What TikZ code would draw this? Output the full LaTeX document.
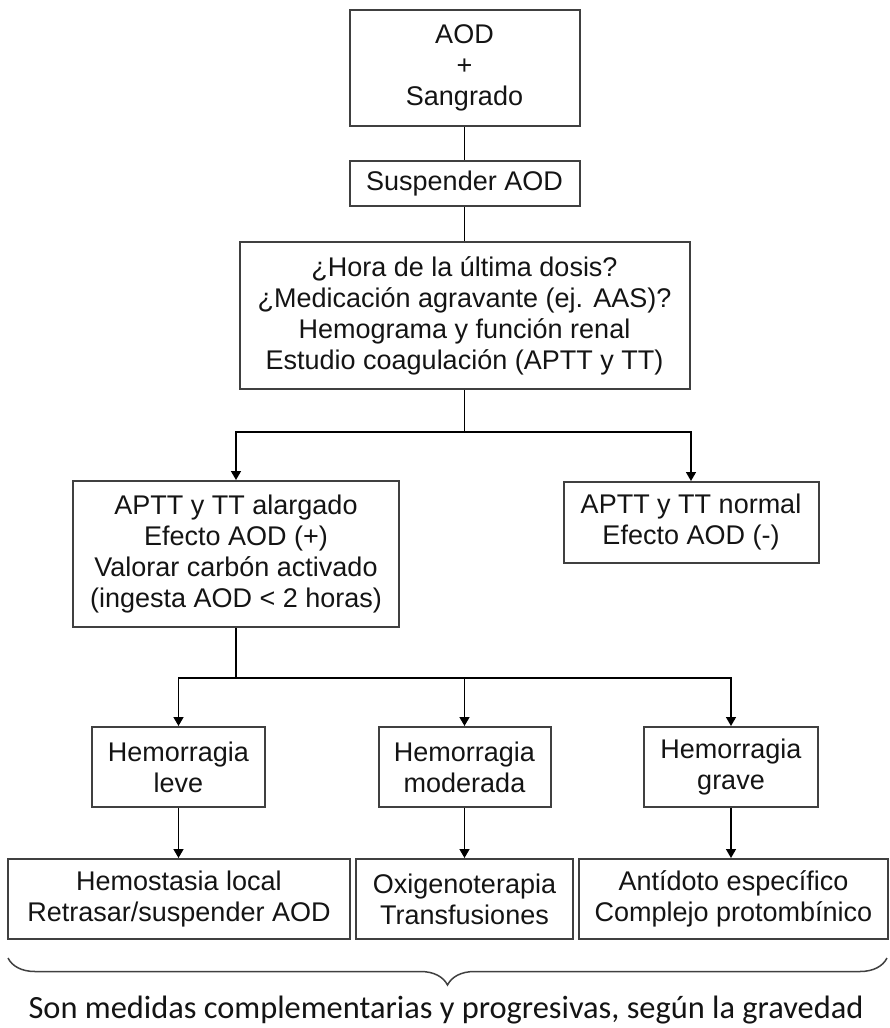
\documentclass[tikz,border=0pt]{standalone}
\usepackage{fontspec}
\setmainfont{Liberation Sans}
\newfontfamily\calibri{Carlito}
\usetikzlibrary{arrows.meta,decorations.pathreplacing}
\definecolor{figK}{RGB}{64,64,64}
\definecolor{figT}{RGB}{20,20,20}

\begin{document}
\begin{tikzpicture}[x=0.5pt,y=-0.5pt,>={Triangle[length=4.5pt,width=5pt]},
  caja/.style={draw=figK,line width=1pt,align=center,inner sep=0pt,text=figT,
    font=\fontsize{13.5}{15.5}\selectfont},
  con/.style={line width=0.75pt,black}]
\useasboundingbox (0,0) rectangle (889,1028);
% columna central
\node[caja,minimum width=115pt,minimum height=58pt] (aod) at (464.5,68) {AOD\\+\\Sangrado};
\node[caja,minimum width=115pt,minimum height=22.5pt] (susp) at (464.5,183.5) {Suspender AOD};
\node[caja,minimum width=225pt,minimum height=73.5pt] (preg) at (464.5,315.5)
  {¿Hora de la última dosis?\\¿Medicación agravante (ej. AAS)?\\Hemograma  y función renal\\Estudio coagulación (APTT  y TT)};
\draw[con] (aod) -- (susp);
\draw[con] (susp) -- (preg);
% resultado de la coagulacion
\node[caja,minimum width=163pt,minimum height=73pt] (alarg) at (236,554)
  {APTT  y TT alargado\\Efecto AOD  (+)\\Valorar carbón activado\\(ingesta AOD < 2 horas)};
\node[caja,minimum width=127.5pt,minimum height=40.5pt] (normal) at (691,522.5)
  {APTT  y TT  normal\\Efecto AOD  (-)};
\coordinate (r1) at (464.5,432);
\draw[con] (preg) -- (r1);
\draw[con,->] (r1) -| (alarg.north);
\draw[con,->] (r1) -| (normal.north);
% gravedad
\node[caja,minimum width=86.5pt,minimum height=40pt] (leve) at (178.5,767) {Hemorragia\\leve};
\node[caja,minimum width=86pt,minimum height=40pt] (moder) at (464.5,767) {Hemorragia\\moderada};
\node[caja,minimum width=87pt,minimum height=40pt] (grave) at (731,767) {Hemorragia\\grave};
\coordinate (r2) at (236,678);
\draw[con] (alarg) -- (r2);
\draw[con,->] (r2) -| (leve.north);
\draw[con,->] (r2) -| (moder.north);
\draw[con,->] (r2) -| (grave.north);
% medidas
\node[caja,minimum width=171pt,minimum height=40pt] (local) at (179,899) {Hemostasia local\\Retrasar/suspender AOD};
\node[caja,minimum width=108.5pt,minimum height=40pt] (oxig) at (464.5,899) {Oxigenoterapia\\Transfusiones};
\node[caja,minimum width=154.5pt,minimum height=40pt] (antid) at (733.5,899) {Antídoto  específico\\Complejo  protombínico};
\draw[con,->] (leve) -- (leve |- local.north);
\draw[con,->] (moder) -- (oxig);
\draw[con,->] (grave) -- (grave |- antid.north);
% llave
\coordinate (bizq) at (8,958);
\coordinate (bder) at (887,958);
\draw[figK,line width=0.75pt,decorate,decoration={brace,mirror,amplitude=13.5pt}] (bizq) -- (bder);
\node[text=figT,font=\calibri\fontsize{16.2}{19}\selectfont] (nota) at (446,1010)
  {Son medidas complementarias y progresivas, según la gravedad};
\end{tikzpicture}
\end{document}
